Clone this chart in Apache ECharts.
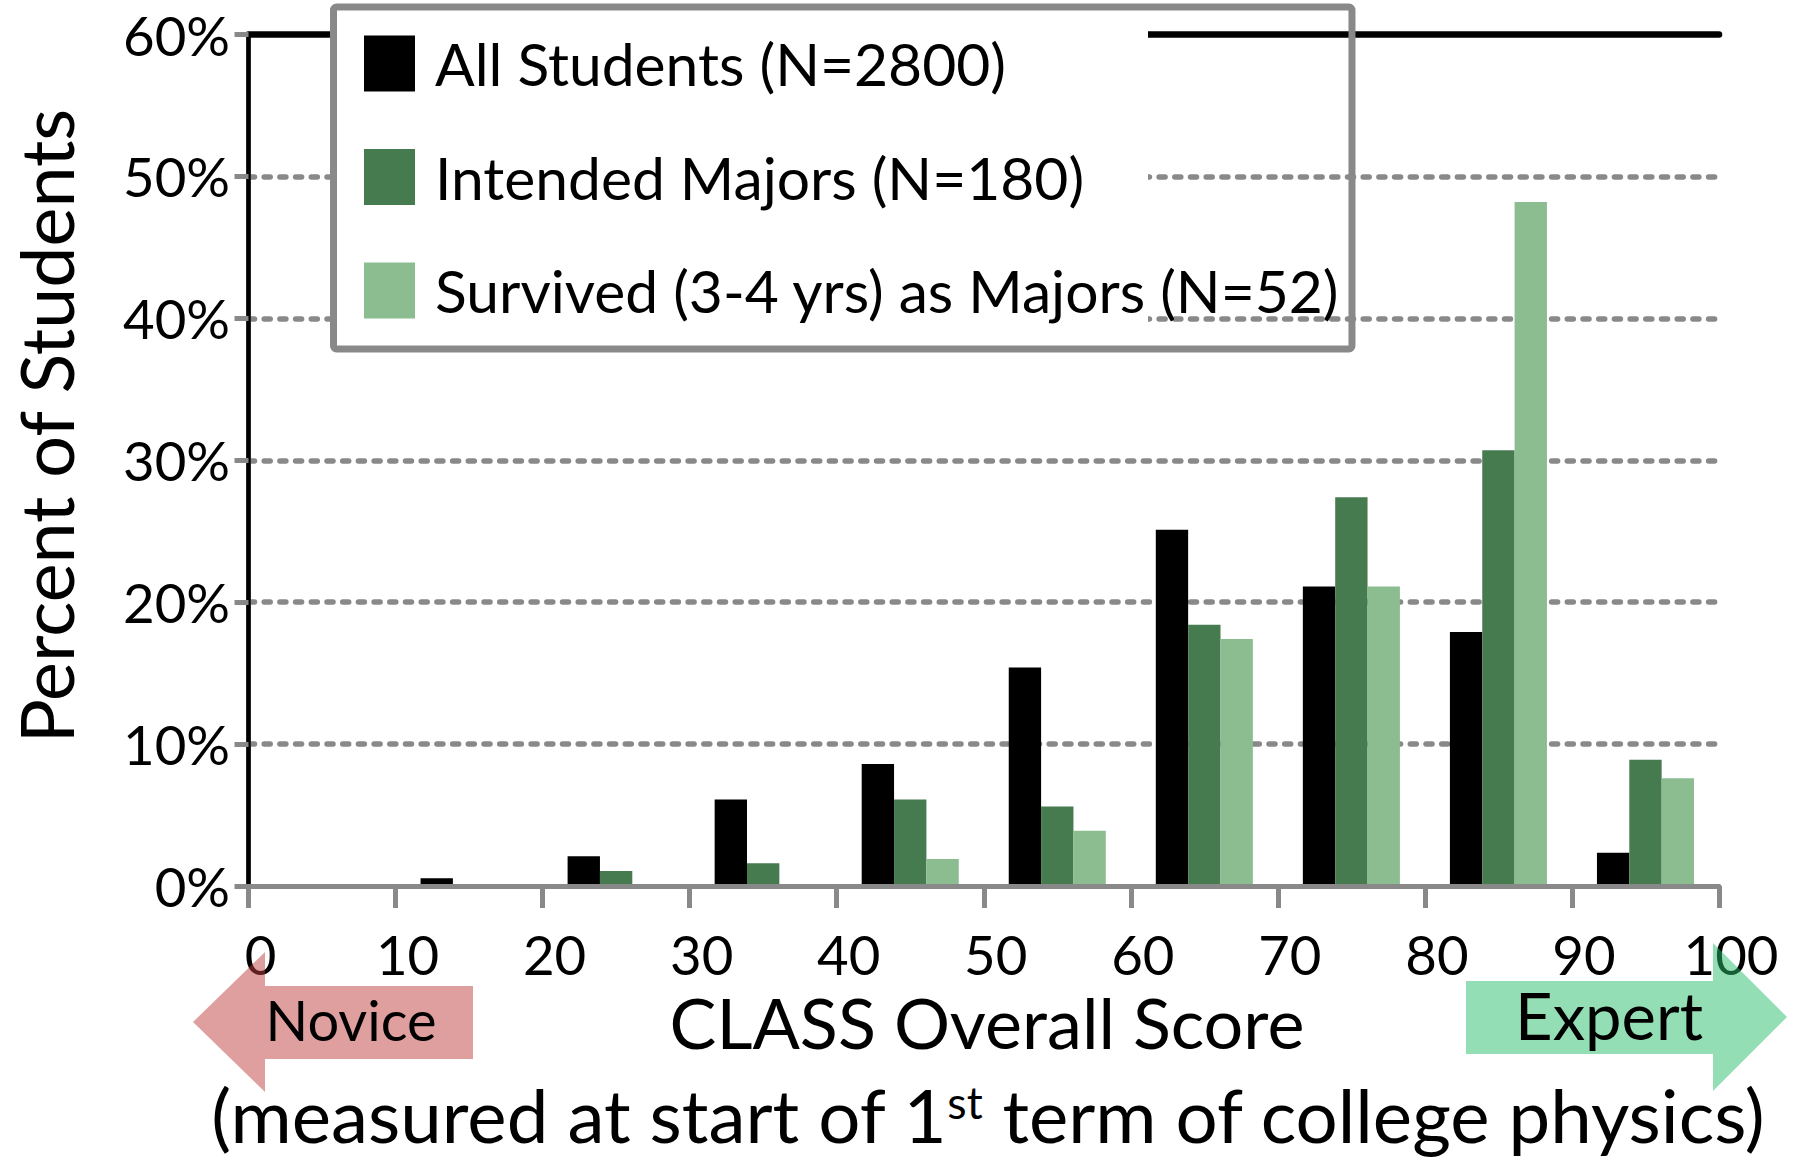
<!DOCTYPE html>
<html>
<head>
<meta charset="utf-8">
<title>CLASS Overall Score</title>
<script src="https://cdn.jsdelivr.net/npm/echarts@6/dist/echarts.min.js"></script>
<style>
  html, body { margin: 0; padding: 0; background: #fff; }
  #chart { width: 1804px; height: 1159px; }
</style>
</head>
<body>
<div id="chart"></div>
<script>
// Score bins (10-point wide) on the CLASS overall score axis
const bins = ['0-10', '10-20', '20-30', '30-40', '40-50', '50-60', '60-70', '70-80', '80-90', '90-100'];

// Percent of students in each bin
const allStudents    = [0, 0.55, 2.1, 6.1, 8.6, 15.4, 25.1, 21.1, 17.9, 2.35];
const intendedMajors = [0, 0, 1.05, 1.6, 6.1, 5.6, 18.4, 27.4, 30.7, 8.9];
const survivedMajors = [0, 0, 0, 0, 1.9, 3.9, 17.4, 21.1, 48.2, 7.6];

const seriesNames = [
    'All Students (N=2800)',
    'Intended Majors (N=180)',
    'Survived (3-4 yrs) as Majors (N=52)'
];
const seriesColors = ['#000000', '#467A4F', '#8BBD91'];

const FONT = 'Lato';
const GRAY = '#898989';

// size a font so a text spans the width the original shows
const measureCtx = document.createElement('canvas').getContext('2d');
function textWidth(text, size) {
    measureCtx.font = size + 'px ' + FONT;
    return measureCtx.measureText(text).width;
}
function fitSize(text, width) {
    return 100 * width / textWidth(text, 100);
}

const tickSize = fitSize('60%', 107);
const legendSize = fitSize(seriesNames[2], 905);
const yTitleSize = fitSize('Percent of Students', 636);
const xTitleSize = fitSize('CLASS Overall Score', 635);
const noviceSize = fitSize('Novice', 171);
const expertSize = fitSize('Expert', 188);
const subParts = ['(measured at start of 1', 'st', ' term of college physics)'];
const subSize = 100 * 1555 / (textWidth(subParts[0], 100) + textWidth(subParts[2], 100) + textWidth(subParts[1], 60));

const chart = echarts.init(document.getElementById('chart'), null, { renderer: 'svg' });

chart.setOption({
    animation: false,
    backgroundColor: '#fff',
    textStyle: { fontFamily: FONT, color: '#000' },
    grid: { left: 248.5, right: 85, top: 34.5, bottom: 273, containLabel: false, outerBoundsMode: 'none' },
    legend: {
        data: seriesNames,
        orient: 'vertical',
        left: 333.5,
        top: 7,
        padding: [27, 12, 29, 30.5],
        itemWidth: 51,
        itemHeight: 56,
        itemGap: 54.5,
        icon: 'rect',
        selectedMode: false,
        backgroundColor: 'transparent',
        borderColor: GRAY,
        borderWidth: 7,
        borderRadius: 3,
        z: 5,
        textStyle: {
            fontFamily: FONT, fontSize: legendSize, color: '#000',
            lineHeight: 56, padding: [0, 0, 0, 15]
        }
    },
    xAxis: [
        { type: 'category', data: bins, show: false },
        {
            type: 'value', min: 0, max: 100, interval: 10, position: 'bottom', z: 3,
            axisLine: { show: true, lineStyle: { color: GRAY, width: 5 } },
            axisTick: { show: true, length: 22, lineStyle: { color: GRAY, width: 5 } },
            axisLabel: {
                show: true, fontFamily: FONT, fontSize: tickSize, color: '#000',
                margin: 45, lineHeight: tickSize * 0.85, padding: [0, 0, 0, 24]
            },
            splitLine: { show: false }
        },
        {
            type: 'value', min: 0, max: 100, position: 'top', z: 0,
            axisLine: { show: true, lineStyle: { color: '#000', width: 6.5 } },
            axisTick: { show: false }, axisLabel: { show: false }, splitLine: { show: false }
        }
    ],
    yAxis: [
        {
            type: 'value', min: 0, max: 60, interval: 10,
            axisLine: { show: true, lineStyle: { color: GRAY, width: 5 } },
            axisTick: { show: true, length: 14, lineStyle: { color: GRAY, width: 5 } },
            axisLabel: {
                show: true, fontFamily: FONT, fontSize: tickSize, color: '#000',
                margin: 18.5, formatter: '{value}%'
            },
            splitLine: {
                show: true, showMinLine: false, showMaxLine: false,
                lineStyle: { color: GRAY, width: 5.5, type: [6, 9.7], cap: 'round' }
            }
        },
        {
            type: 'value', min: 0, max: 60, position: 'right',
            axisLine: { show: true, lineStyle: { color: '#000', width: 4.5 } },
            axisTick: { show: false }, axisLabel: { show: false }, splitLine: { show: false }
        }
    ],
    series: [allStudents, intendedMajors, survivedMajors].map((values, i) => ({
        name: seriesNames[i],
        type: 'bar',
        xAxisIndex: 0,
        yAxisIndex: 0,
        data: values,
        barWidth: '22%',
        barGap: '0%',
        itemStyle: { color: seriesColors[i] }
    })),
    graphic: [
        // white backing behind the left part of the legend box
        { type: 'rect', z: 1, silent: true, shape: { x: 333, y: 8, width: 815, height: 332 }, style: { fill: '#fff' } },
        // Novice / Expert arrows
        {
            type: 'polygon', z: 10, silent: true,
            shape: { points: [[193, 1022], [265, 952], [265, 986], [473, 986], [473, 1059], [265, 1059], [265, 1092]] },
            style: { fill: 'rgba(191,64,64,0.5)' }
        },
        {
            type: 'polygon', z: 10, silent: true,
            shape: { points: [[1787, 1017], [1713, 943], [1713, 981], [1466, 981], [1466, 1054], [1713, 1054], [1713, 1091]] },
            style: { fill: 'rgba(41,189,107,0.5)' }
        },
        {
            type: 'text', z: 11, x: 351, y: 1019,
            style: { text: 'Novice', fontFamily: FONT, fontSize: noviceSize, lineHeight: noviceSize * 0.85, fill: '#000', align: 'center', verticalAlign: 'middle' }
        },
        {
            type: 'text', z: 11, x: 1609, y: 1015,
            style: { text: 'Expert', fontFamily: FONT, fontSize: expertSize, lineHeight: expertSize * 0.85, fill: '#000', align: 'center', verticalAlign: 'middle' }
        },
        // axis titles
        {
            type: 'text', z: 11, x: 987, y: 1022,
            style: { text: 'CLASS Overall Score', fontFamily: FONT, fontSize: xTitleSize, lineHeight: xTitleSize * 0.85, fill: '#000', align: 'center', verticalAlign: 'middle' }
        },
        {
            type: 'text', z: 11, x: 988, y: 1114,
            style: {
                text: '{a|' + subParts[0] + '}{s|' + subParts[1] + '}{a|' + subParts[2] + '}',
                align: 'center', verticalAlign: 'middle',
                rich: {
                    a: { fontFamily: FONT, fontSize: subSize, fill: '#000', lineHeight: subSize * 0.95 },
                    s: { fontFamily: FONT, fontSize: subSize * 0.6, fill: '#000', lineHeight: subSize * 0.6, verticalAlign: 'top', padding: [1, 0, 0, 0] }
                }
            }
        },
        {
            type: 'text', z: 11, x: 45, y: 426, rotation: Math.PI / 2,
            style: { text: 'Percent of Students', fontFamily: FONT, fontSize: yTitleSize, lineHeight: yTitleSize * 0.85, fill: '#000', align: 'center', verticalAlign: 'middle' }
        }
    ]
});
</script>
</body>
</html>
